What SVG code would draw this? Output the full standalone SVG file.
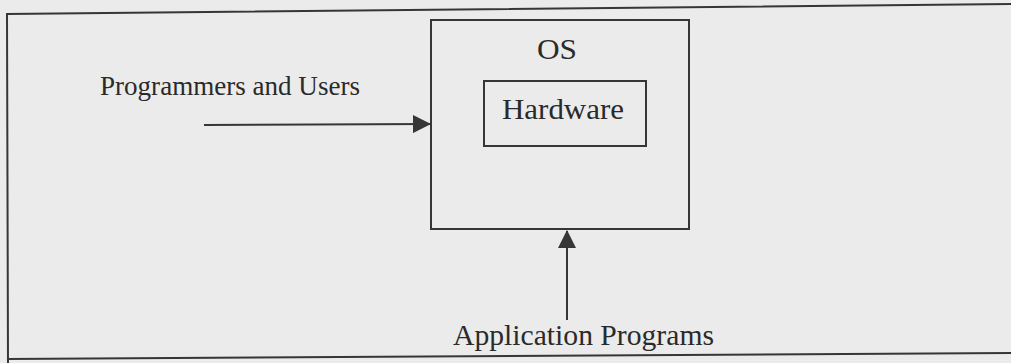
<svg xmlns="http://www.w3.org/2000/svg" width="1011" height="363" viewBox="0 0 1011 363">
<style>
.ln{fill:none;stroke:#363636;stroke-width:2}
.tx{font-family:"Liberation Serif","Times New Roman",serif;fill:#2a2a2a}
</style>
<defs>
<marker id="ah2" markerWidth="18" markerHeight="18" refX="17" refY="9" orient="auto" markerUnits="userSpaceOnUse" viewBox="0 0 18 18">
<path d="M0,0 L18,9 L0,18 Z" fill="#363636"/>
</marker>
</defs>
<rect width="1011" height="363" fill="#ebebeb"/>
<g id="frame">
<polyline class="ln" points="1011,4 7,14 8,363"/>
<line class="ln" x1="7" y1="359" x2="1011" y2="353"/>
</g>
<g id="os">
<rect class="ln" x="431" y="20" width="258" height="209"/>
<text class="tx" x="557" y="59" font-size="30" text-anchor="middle" textLength="40" lengthAdjust="spacingAndGlyphs">OS</text>
</g>
<g id="hardware">
<rect class="ln" x="484" y="81" width="162" height="65"/>
<text class="tx" x="563" y="119" font-size="29" text-anchor="middle" textLength="122" lengthAdjust="spacingAndGlyphs">Hardware</text>
</g>
<g id="users">
<text class="tx" x="100" y="95" font-size="28" textLength="260" lengthAdjust="spacingAndGlyphs">Programmers and Users</text>
</g>
<g id="apps">
<text class="tx" x="453" y="345" font-size="30" textLength="261" lengthAdjust="spacingAndGlyphs">Application Programs</text>
</g>
<g id="connectors">
<line class="ln" x1="204" y1="125" x2="430" y2="124" marker-end="url(#ah2)"/>
<line class="ln" x1="567" y1="320" x2="567" y2="231" marker-end="url(#ah2)"/>
</g>
</svg>
